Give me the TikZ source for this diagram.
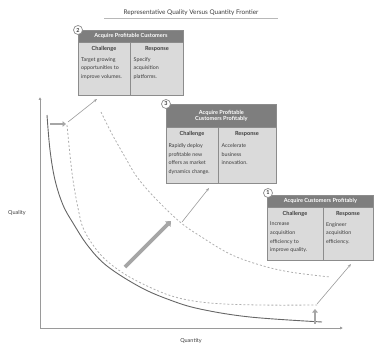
\documentclass[tikz,border=0pt]{standalone}
\usepackage{fontspec}
\setmainfont{Lato}
\usetikzlibrary{arrows.meta,positioning}
\definecolor{hdrgray}{HTML}{7E7E7E}
\definecolor{bodygray}{HTML}{DADADA}
\definecolor{edgegray}{HTML}{8C8C8C}
\definecolor{linegray}{HTML}{9A9A9A}
\definecolor{textgray}{HTML}{3C3C3C}
\definecolor{fatgray}{HTML}{A6A6A6}
\tikzset{
  hdr/.style={fill=hdrgray, draw=edgegray, line width=0.7pt, text=white, font=\fontsize{5.6}{6.6}\selectfont\bfseries, inner sep=0pt, anchor=north west, align=center},
  bodybox/.style={fill=bodygray, draw=edgegray, line width=0.7pt, inner sep=0pt, anchor=north west},
  colhead/.style={font=\fontsize{5.6}{6.6}\selectfont\bfseries, text=textgray, anchor=north, inner sep=0pt},
  coltext/.style={font=\fontsize{5.3}{8.5}\selectfont, text=textgray, anchor=north west, align=left, inner sep=0pt},
  divider/.style={draw=edgegray, line width=0.7pt},
  badge/.style={circle, draw=edgegray, fill=white, line width=0.7pt, minimum size=9pt, inner sep=0pt, font=\fontsize{5.5}{6}\selectfont\bfseries, text=textgray},
  thinarrow/.style={draw=linegray, line width=0.6pt, -{Stealth[length=3.5pt,width=2.6pt]}},
  fatarrow/.style={draw=fatgray, line width=3.6pt, -{Triangle[length=4.5pt,width=7.5pt]}},
  axisline/.style={draw=linegray, line width=0.9pt, -{Latex[length=2.8pt,width=2.8pt]}, color=linegray},
  dashcurve/.style={draw=linegray!80, line width=0.8pt, dash pattern=on 2pt off 2pt},
  lbl/.style={font=\fontsize{5.5}{6.5}\selectfont, text=textgray, inner sep=0pt}
}
\begin{document}
\begin{tikzpicture}[x=1pt,y=-1pt]
\useasboundingbox (0,0) rectangle (374,350);
% title
\node[font=\fontsize{6.4}{7.5}\selectfont, text=textgray, inner sep=0pt] (title) at (191,13) {Representative Quality Versus Quantity Frontier};
\coordinate (tl) at (104,18.5);
\coordinate (tr) at (278,18.5);
\draw[draw=linegray!70, line width=1.4pt] (tl) -- (tr);

% axes
\coordinate (origin) at (40,328);
\coordinate (ytop) at (40,97);
\coordinate (xend) at (343,328);
\draw[axisline] (origin) -- (ytop);
\draw[axisline] (origin) -- (xend);
\node[lbl] (qual) at (17,213) {Quality};
\node[lbl] (quant) at (191,341) {Quantity};

% frontier curves
\draw[draw=black!60, line width=0.9pt] plot[smooth, tension=0.6] coordinates {(47,115) (50,150) (55,180) (63,205) (73,223) (88,246) (107,266) (140,287) (170,300) (200,309) (250,317) (322,322)};
\draw[dashcurve] plot[smooth, tension=0.6] coordinates {(67,125) (70,155) (73,180) (78,208) (84,230) (100,254) (120,271) (145,285) (175,297) (210,303) (260,305) (317,305)};
\draw[dashcurve] plot[smooth, tension=0.6] coordinates {(101,112) (112,134) (125,157) (137,177) (155,198) (180,222) (200,236) (230,254) (260,265) (290,272) (330,277)};

% fat arrows
\coordinate (fa1s) at (50,124);
\coordinate (fa1e) at (66,124);
\draw[fatarrow, line width=2.6pt, -{Triangle[length=3.5pt,width=5.5pt]}] (fa1s) -- (fa1e);
\coordinate (fa2s) at (125,267);
\coordinate (fa2e) at (171,221);
\draw[fatarrow] (fa2s) -- (fa2e);
\coordinate (fa3s) at (315,324);
\coordinate (fa3e) at (315,309);
\draw[fatarrow, line width=2.6pt, -{Triangle[length=3.5pt,width=5.5pt]}] (fa3s) -- (fa3e);

% thin arrows
\coordinate (ta1s) at (68,122);
\coordinate (ta1e) at (97,99);
\draw[thinarrow] (ta1s) -- (ta1e);
\coordinate (ta2s) at (182,222);
\coordinate (ta2e) at (209,188);
\draw[thinarrow] (ta2s) -- (ta2e);
\coordinate (ta3s) at (317,304);
\coordinate (ta3e) at (351,264);
\draw[thinarrow] (ta3s) -- (ta3e);

% box 2
\node[bodybox, minimum width=105pt, minimum height=53pt] (b2) at (78,42) {};
\node[hdr, minimum width=105pt, minimum height=12pt] (h2) at (78,30) {Acquire Profitable Customers};
\draw[divider] (130,42) -- (130,95);
\node[colhead] (c2) at (104,46) {Challenge};
\node[colhead] (r2) at (157,46) {Response};
\node[coltext] (c2t) at (81,57) {Target growing\\opportunities to\\improve volumes.};
\node[coltext] (r2t) at (133.5,57) {Specify\\acquisition\\platforms.};
\node[badge] (n2) at (78,30) {2};

% box 3
\node[bodybox, minimum width=110pt, minimum height=56pt] (b3) at (166,127) {};
\node[hdr, minimum width=110pt, minimum height=23pt] (h3) at (166,104) {Acquire Profitable\\Customers Profitably};
\draw[divider] (218,127) -- (218,183);
\node[colhead] (c3) at (192,131) {Challenge};
\node[colhead] (r3) at (247,131) {Response};
\node[coltext] (c3t) at (168.5,143.5) {Rapidly deploy\\profitable new\\offers as market\\dynamics change.};
\node[coltext] (r3t) at (221.5,143.5) {Accelerate\\business\\innovation.};
\node[badge] (n3) at (166,104) {3};

% box 1
\node[bodybox, minimum width=106pt, minimum height=53pt] (b1) at (267,207) {};
\node[hdr, minimum width=106pt, minimum height=12pt] (h1) at (267,195) {Acquire Customers Profitably};
\draw[divider] (323,207) -- (323,260);
\node[colhead] (c1) at (295,211) {Challenge};
\node[colhead] (r1) at (348,211) {Response};
\node[coltext] (c1t) at (270,222) {Increase\\acquisition\\efficiency to\\improve quality.};
\node[coltext] (r1t) at (326,222) {Engineer\\acquisition\\efficiency.};
\node[badge] (n1) at (268,193) {1};
\end{tikzpicture}
\end{document}
